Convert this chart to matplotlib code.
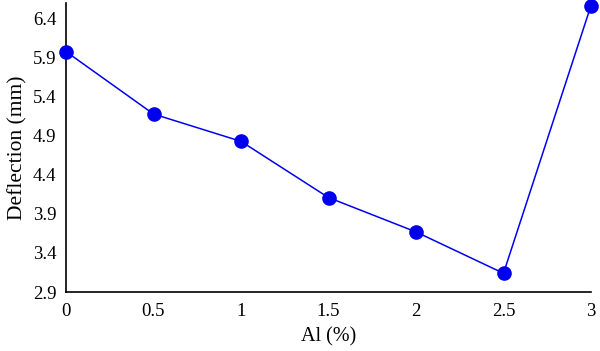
import matplotlib
matplotlib.use("Agg")
import matplotlib.pyplot as plt

# Al content vs deflection
al_pct = [0, 0.5, 1, 1.5, 2, 2.5, 3]
deflection = [5.98, 5.18, 4.83, 4.11, 3.67, 3.14, 6.57]
x_ticks = [0, 0.5, 1, 1.5, 2, 2.5, 3]
x_labels = ["0", "0.5", "1", "1.5", "2", "2.5", "3"]
y_ticks = [2.9, 3.4, 3.9, 4.4, 4.9, 5.4, 5.9, 6.4]

plt.rcParams['font.family'] = ['Liberation Serif', 'DejaVu Serif']

fig = plt.figure(figsize=(6, 3.51), dpi=100)
ax = fig.add_axes([0.11, 0.168, 0.875, 0.823])

ax.plot(al_pct, deflection, color='#0000ee', linewidth=1.1, marker='o',
        markersize=9.5, clip_on=False, zorder=3)

ax.set_xlim(0, 3)
ax.set_ylim(2.9, 6.6)
ax.set_xticks(x_ticks)
ax.set_xticklabels(x_labels)
ax.set_yticks(y_ticks)
ax.set_yticklabels([f"{v:.1f}" for v in y_ticks])
ax.tick_params(axis='x', length=0, labelsize=13.5, pad=8)
ax.tick_params(axis='y', length=0, labelsize=13.5, pad=7)

for side in ['top', 'right']:
    ax.spines[side].set_visible(False)
for side in ['left', 'bottom']:
    ax.spines[side].set_linewidth(1.2)

ax.set_xlabel('Al (%)', fontsize=14.5, labelpad=5)
ax.set_ylabel('Deflection (mm)', fontsize=15.5, labelpad=4)

fig.savefig('out.png', dpi=100)
